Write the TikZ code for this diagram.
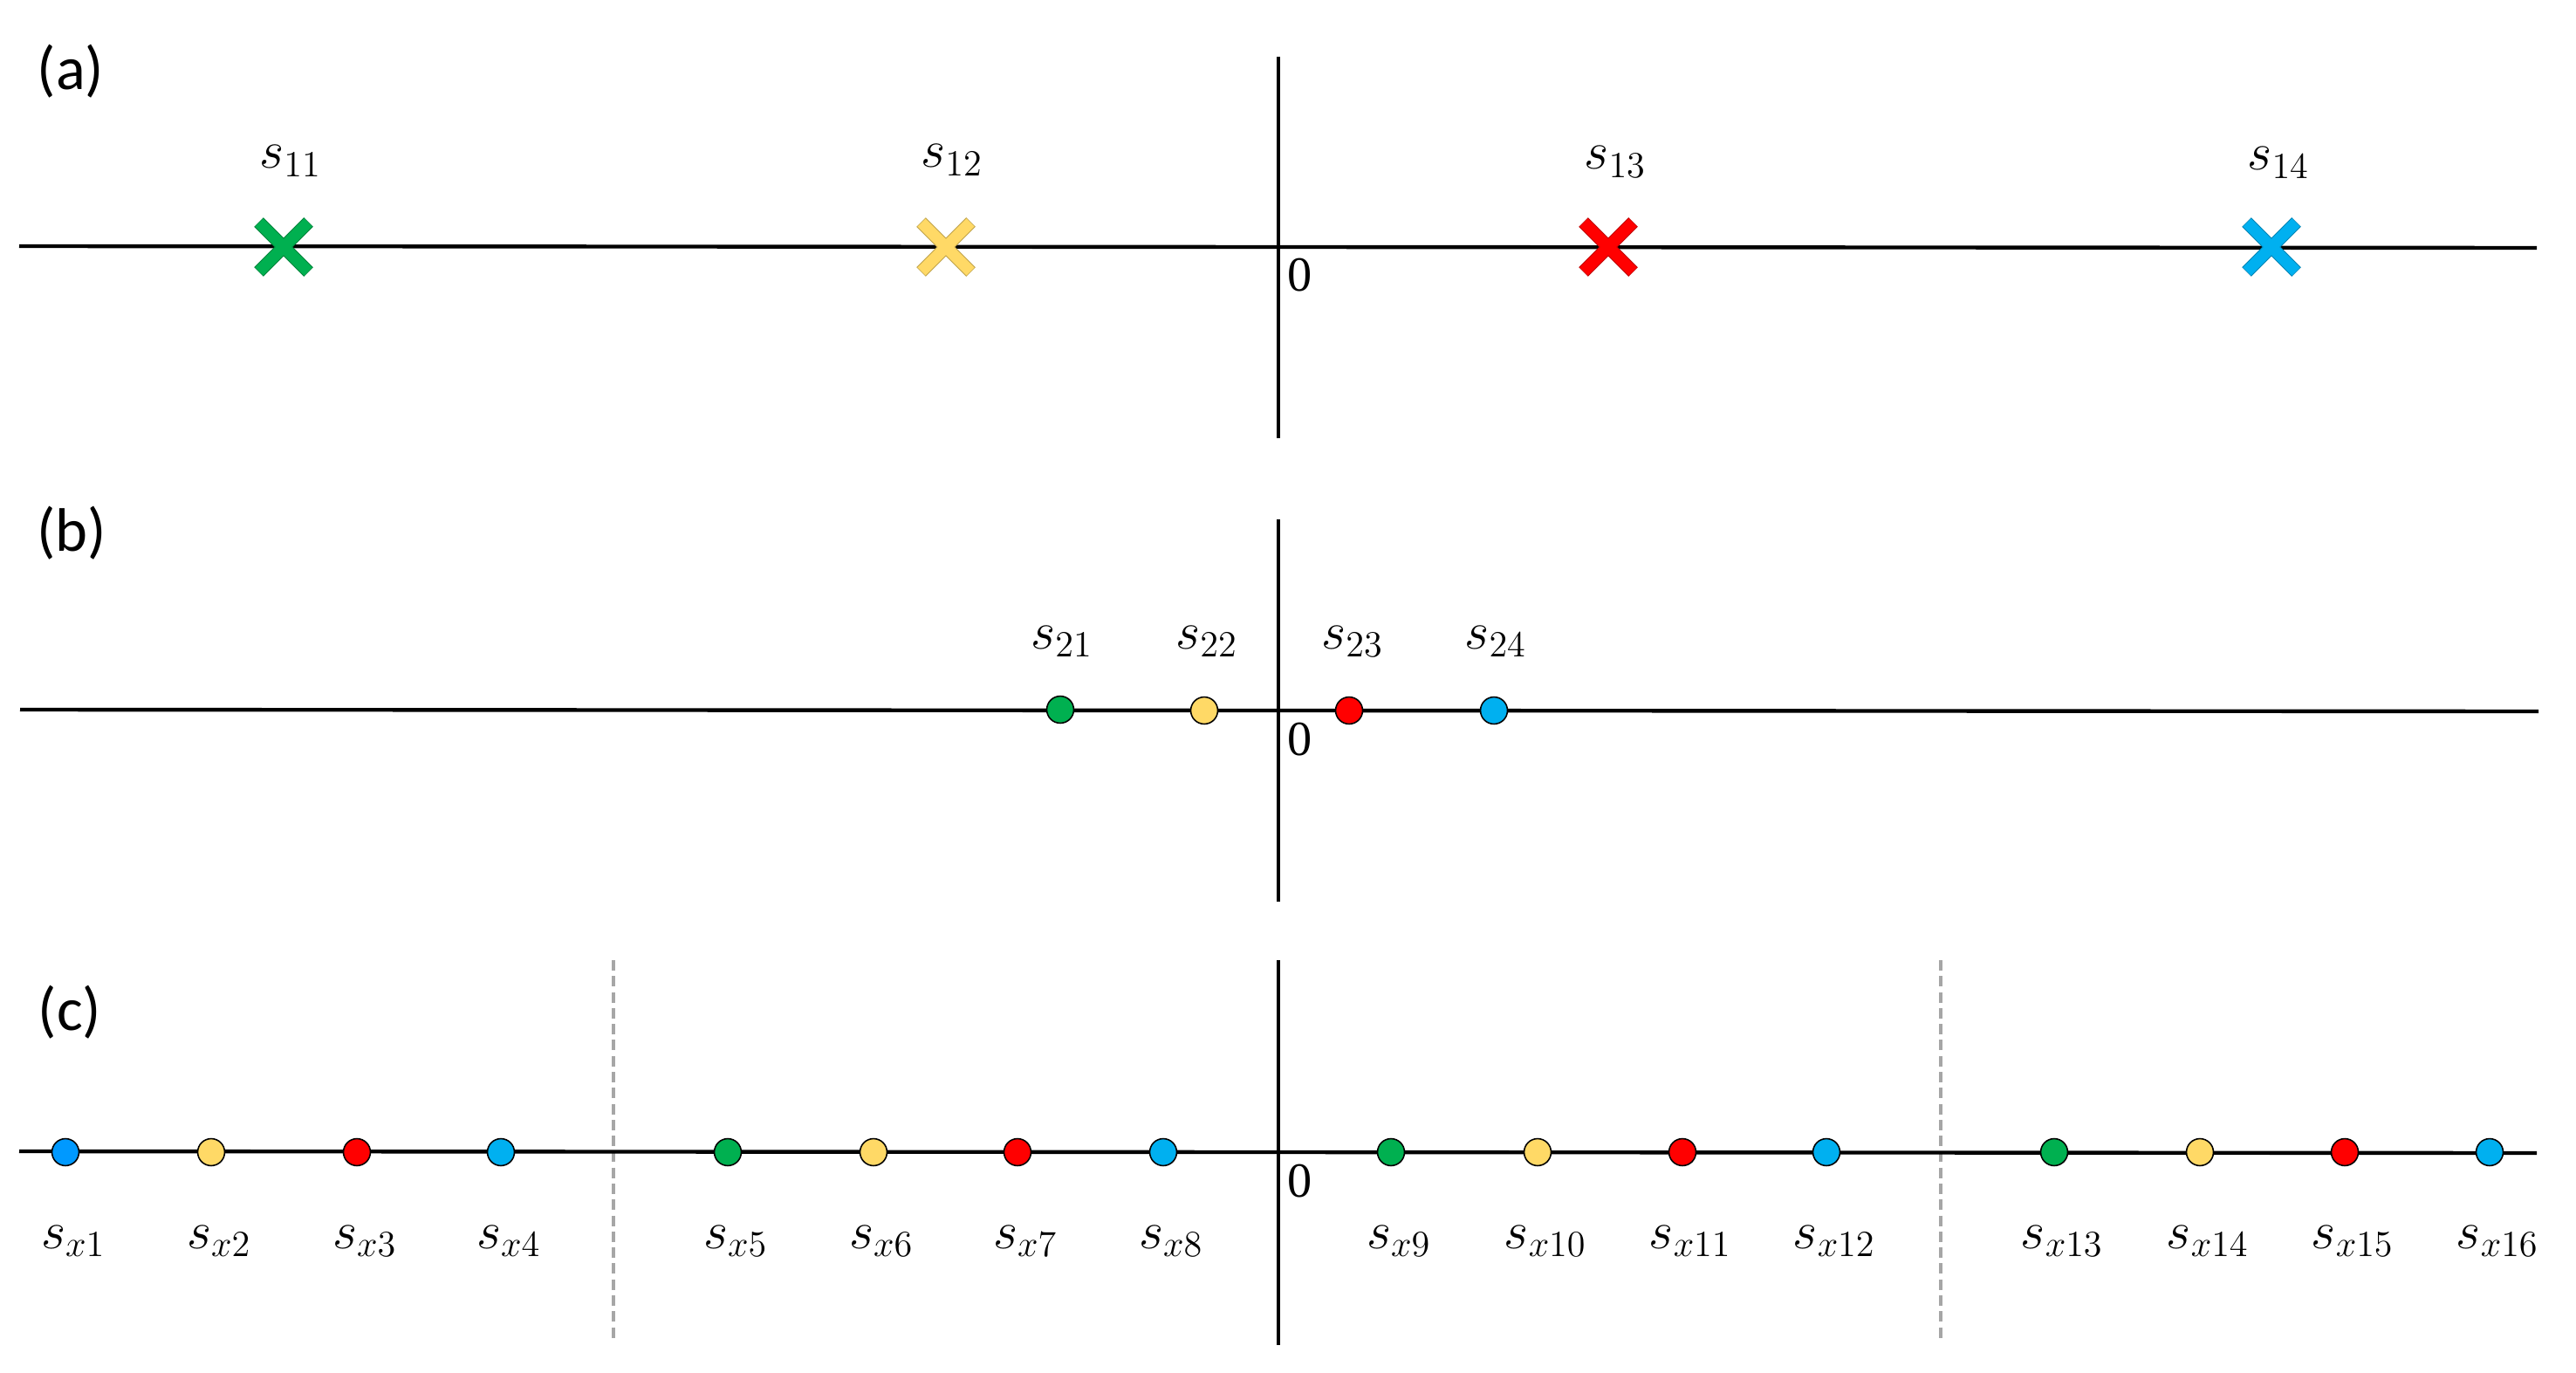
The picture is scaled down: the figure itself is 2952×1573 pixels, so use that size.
\documentclass[tikz,border=0pt]{standalone}
\usepackage{fontspec}
\setmainfont{Liberation Serif}
\newfontfamily\panelfont{Carlito}
\definecolor{cgreen}{HTML}{00B050}
\definecolor{cyellow}{HTML}{FFD966}
\definecolor{cred}{HTML}{FF0000}
\definecolor{cblue}{HTML}{00B0F0}
\definecolor{cblueb}{HTML}{0099FF}
\definecolor{cgray}{HTML}{A6A6A6}
\tikzset{
  haxis/.style={line width=1.25pt, black},
  vaxis/.style={line width=1.0pt, black},
  divider/.style={draw=cgray, line width=1.2pt, dash pattern=on 3.4pt off 1.8pt},
  dotmark/.style={circle, draw=black, line width=0.45pt, minimum size=8.8pt, inner sep=0pt},
  lbl/.style={anchor=base, inner sep=0pt, font=\fontsize{16.5}{18}\selectfont},
  zerolbl/.style={inner sep=0pt, font=\fontsize{16}{18}\selectfont},
  panellbl/.style={inner sep=0pt, font=\panelfont\fontsize{20}{24}\selectfont},
  pics/xmark/.style={code={
    \draw[line width=4.3pt, draw=#1!75!black] (-28.5,-28.5) -- (28.5,28.5) (-28.5,28.5) -- (28.5,-28.5);
    \draw[line width=3.7pt, draw=#1] (-28,-28) -- (28,28) (-28,28) -- (28,-28);
  }}
}
\begin{document}
\begin{tikzpicture}[x=0.01cm,y=-0.01cm]
\useasboundingbox (0,0) rectangle (2952,1573);

% ---------- panel (a)
\coordinate (aL) at (22,282);
\coordinate (aR) at (2907,284);
\coordinate (aT) at (1465,65);
\coordinate (aB) at (1465,502);
\draw[haxis] (aL) -- (aR);
\draw[vaxis] (aT) -- (aB);
\node[panellbl] (pa) at (81,82) {(a)};
\node[zerolbl] (za) at (1490,315) {0};
\pic (x11) at (325,283) {xmark=cgreen};
\pic (x12) at (1084,283) {xmark=cyellow};
\pic (x13) at (1843,283) {xmark=cred};
\pic (x14) at (2603,283) {xmark=cblue};
\node[lbl] (l11) at (333,193) {$s_{11}$};
\node[lbl] (l12) at (1091,192) {$s_{12}$};
\node[lbl] (l13) at (1851,194) {$s_{13}$};
\node[lbl] (l14) at (2611,195) {$s_{14}$};

% ---------- panel (b)
\coordinate (bL) at (23,813);
\coordinate (bR) at (2909,815);
\coordinate (bT) at (1465,595);
\coordinate (bB) at (1465,1033);
\draw[haxis] (bL) -- (bR);
\draw[vaxis] (bT) -- (bB);
\node[panellbl] (pb) at (82,611) {(b)};
\node[zerolbl] (zb) at (1490,847) {0};
\node[dotmark, fill=cgreen] (d21) at (1215,813) {};
\node[dotmark, fill=cyellow] (d22) at (1380,814) {};
\node[dotmark, fill=cred] (d23) at (1546,814) {};
\node[dotmark, fill=cblue] (d24) at (1712,814) {};
\node[lbl] (l21) at (1217,743) {$s_{21}$};
\node[lbl] (l22) at (1383,743) {$s_{22}$};
\node[lbl] (l23) at (1550,743) {$s_{23}$};
\node[lbl] (l24) at (1714,743) {$s_{24}$};

% ---------- panel (c)
\coordinate (cL) at (22,1319);
\coordinate (cR) at (2907,1321);
\coordinate (cT) at (1465,1100);
\coordinate (cB) at (1465,1541);
\coordinate (dAT) at (703,1100);
\coordinate (dAB) at (703,1537);
\coordinate (dBT) at (2224,1100);
\coordinate (dBB) at (2224,1537);
\draw[divider] (dAT) -- (dAB);
\draw[divider] (dBT) -- (dBB);
\draw[haxis] (cL) -- (cR);
\draw[vaxis] (cT) -- (cB);
\node[panellbl] (pc) at (80,1160) {(c)};
\node[zerolbl] (zc) at (1490,1353) {0};
\foreach \i/\xx/\col in {1/75/cblueb, 2/242/cyellow, 3/409/cred, 4/574/cblue,
                         5/834/cgreen, 6/1001/cyellow, 7/1166/cred, 8/1333/cblue,
                         9/1594/cgreen, 10/1762/cyellow, 11/1928/cred, 12/2093/cblue,
                         13/2354/cgreen, 14/2521/cyellow, 15/2687/cred, 16/2853/cblue}{
  \node[dotmark, fill=\col] (dx\i) at (\xx,1320) {};
  \node[lbl] (lx\i) at (\xx+9,1430) {$s_{x\i}$};
}
\end{tikzpicture}
\end{document}
